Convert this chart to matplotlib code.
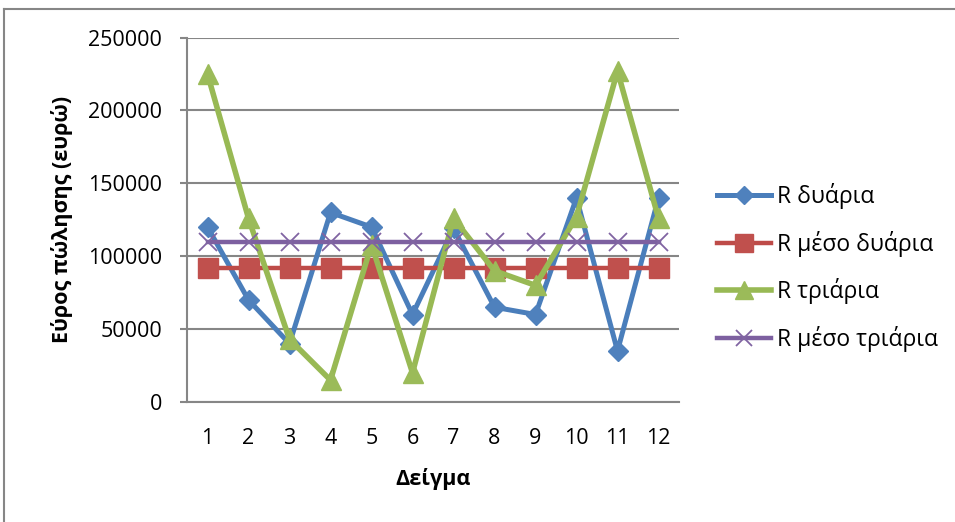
import matplotlib
matplotlib.use("Agg")
import matplotlib.pyplot as plt
from matplotlib.lines import Line2D

plt.rcParams['font.family'] = ['Open Sans', 'Noto Sans', 'DejaVu Sans']

samples = [1, 2, 3, 4, 5, 6, 7, 8, 9, 10, 11, 12]
r_duaria = [120000, 70000, 40000, 130000, 120000, 60000, 119000, 65000, 60000, 140000, 35000, 140000]
r_meso_duaria = [91667] * 12
r_triaria = [225000, 126000, 43000, 15000, 108000, 20000, 126000, 90000, 80000, 127000, 227000, 126000]
r_meso_triaria = [110000] * 12
yticks = [0, 50000, 100000, 150000, 200000, 250000]

labels = ['R δυάρια', 'R μέσο δυάρια', 'R τριάρια', 'R μέσο τριάρια']

W, H = 955, 522
fig = plt.figure(figsize=(W / 100, H / 100), dpi=100)
ax = fig.add_axes([187 / W, 1 - 402 / H, (679 - 187) / W, (402 - 37.5) / H])

ax.plot(samples, r_duaria, color='#4A7EBB', lw=3.6, marker='D', ms=10.5,
        mfc='#4F81BD', mec='#4F81BD', label=labels[0], zorder=3)
ax.plot(samples, r_meso_duaria, color='#BE4B48', lw=3.2, marker='s', ms=14.5,
        mfc='#C0504D', mec='#C0504D', label=labels[1], zorder=4)
ax.plot(samples, r_triaria, color='#98B954', lw=4.0, marker='^', ms=15,
        mfc='#9BBB59', mec='#9BBB59', label=labels[2], zorder=5)
ax.plot(samples, r_meso_triaria, color='#7D60A0', lw=3.2, marker='x', ms=13,
        mew=1.3, mfc='#8064A2', mec='#8064A2', label=labels[3], zorder=6)

ax.set_xlim(0.5, 12.5)
ax.set_ylim(0, 250000)
ax.set_yticks(yticks)
ax.set_yticklabels([str(v) for v in yticks])
ax.set_xticks(samples)
ax.set_xticklabels([str(s) for s in samples])

ax.grid(axis='y', color='#868686', lw=1.5)
ax.set_axisbelow(True)
for s in ['top', 'right']:
    ax.spines[s].set_visible(False)
for s in ['left', 'bottom']:
    ax.spines[s].set_color('#868686')
    ax.spines[s].set_linewidth(1.5)

FS = 15.5
ax.tick_params(axis='y', length=5, width=1.5, color='#868686', pad=13, labelsize=FS)
ax.tick_params(axis='x', length=0, pad=19, labelsize=FS)

ax.set_xlabel('Δείγμα', fontsize=FS, fontweight='bold')
ax.xaxis.set_label_coords(0.5, -0.18)
ax.set_ylabel('Εύρος πώλησης (ευρώ)', fontsize=FS, fontweight='bold')
ax.yaxis.set_label_coords(-0.232, 0.5)

leg = fig.legend(loc='center left', bbox_to_anchor=(717 / W, 1 - 267.5 / H),
                 frameon=False, fontsize=16.5, handlelength=2.35,
                 handletextpad=0.25, labelspacing=0.95, borderpad=0, borderaxespad=0)
for h in leg.legend_handles:
    h.set_markersize(h.get_markersize() * 0.85)

# chart area border (top and left visible)
fig.add_artist(Line2D([4 / W, 4 / W], [0, 1 - 9 / H], transform=fig.transFigure,
                      color='#868686', lw=1.5))
fig.add_artist(Line2D([4 / W, 1], [1 - 9 / H, 1 - 9 / H], transform=fig.transFigure,
                      color='#868686', lw=1.5))

fig.savefig('out.png', dpi=100)
